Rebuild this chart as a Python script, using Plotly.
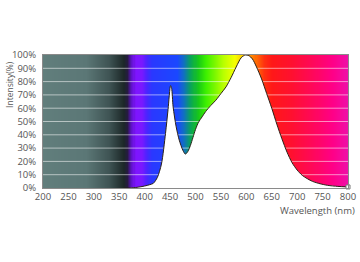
import numpy as np
import plotly.graph_objects as go

# Spectral power distribution (relative intensity, %)
wavelength = [360, 370, 385, 400, 410, 417, 425, 433, 441, 446, 451, 453, 456, 462, 468, 475, 480,
              485, 490, 495, 500, 506, 513, 520, 530, 540, 550, 560, 570, 580, 590, 598,
              605, 612, 620, 630, 640, 650, 660, 670, 680, 690, 700, 710, 720, 730, 745,
              760, 780, 800]
intensity = [0, 0, 0.5, 1.5, 2.5, 3.5, 8, 18, 41, 59, 77, 75, 61, 46, 36, 28.5, 25.5,
             27.5, 32, 38, 44, 49.5, 53.5, 57.5, 62, 66, 71, 76, 83, 91, 98, 100,
             99.5, 97, 91, 82, 71, 60, 48, 37, 27, 19, 13.5, 9.5, 7, 5, 3.2,
             2, 1.2, 0.8]

# Colour stops of the background spectrum band (wavelength nm, colour)
band_wl = [200, 285, 330, 360, 367, 374, 382, 394, 404, 414, 465, 478, 490, 505, 520, 555, 578, 600,
           615, 635, 650, 690, 730, 770, 800]
band_col = ["#617e7c", "#5b7776", "#3f5454", "#1c2828", "#261c40", "#5a12c0", "#7e14ff", "#7a18ff",
            "#4a24ff", "#2a38ff", "#1a48ff", "#1070c0", "#08a060", "#18c818", "#3cf000", "#b8ff00",
            "#f6ff00", "#ffb000", "#ff7a00", "#ff3010", "#ff1818", "#ff1030", "#ff0858", "#ff0088",
            "#ee10a8"]

x_ticks = list(range(200, 801, 50))
y_ticks = list(range(0, 101, 10))
y_labels = [f"{v}%" for v in y_ticks]

wmin, wmax = 200, 800
colorscale = [[(w - wmin) / (wmax - wmin), c] for w, c in zip(band_wl, band_col)]

edges = np.arange(wmin, wmax + 1, 2)
centers = (edges[:-1] + edges[1:]) / 2

fig = go.Figure()
fig.add_trace(go.Heatmap(
    x=edges, y=[0, 100], z=[centers, centers], zmin=wmin, zmax=wmax,
    colorscale=colorscale, showscale=False, hoverinfo="skip", zsmooth=False,
))

# gridlines over the coloured band
gx, gy = [], []
for v in y_ticks[1:-1]:
    gx += [wmin, wmax, None]
    gy += [v, v, None]
fig.add_trace(go.Scatter(x=gx, y=gy, mode="lines",
                         line=dict(color="rgba(255,255,255,0.55)", width=1),
                         hoverinfo="skip", showlegend=False))

fig.add_trace(go.Scatter(
    x=wavelength, y=intensity, mode="lines", line=dict(color="#2b2118", width=1, shape="spline", smoothing=0.8),
    fill="tozeroy", fillcolor="white", showlegend=False, hoverinfo="skip",
))
fig.add_trace(go.Scatter(x=[wavelength[-1]], y=[intensity[-1]], mode="markers",
                         marker=dict(symbol="square", size=4, color="white", line=dict(color="#777", width=1)),
                         showlegend=False, hoverinfo="skip", cliponaxis=False))

fig.update_layout(
    width=360, height=262,
    margin=dict(l=43, r=12, t=55, b=74, autoexpand=False),
    paper_bgcolor="white", plot_bgcolor="white",
    font=dict(family="Open Sans", size=9, color="#555555"),
    showlegend=False,
    xaxis=dict(range=[wmin, wmax], tickvals=x_ticks, showgrid=False, zeroline=False,
               showline=True, linecolor="#8a8a8a", linewidth=1, mirror=True, ticks="",
               tickfont=dict(size=9.5, color="#555555"), fixedrange=True, automargin=False),
    yaxis=dict(range=[0, 100], tickvals=y_ticks, ticktext=y_labels, showgrid=False, zeroline=False,
               showline=True, linecolor="#8a8a8a", linewidth=1, mirror=True, ticks="",
               tickfont=dict(size=9.5, color="#555555"), ticklabelstandoff=4, fixedrange=True,
               automargin=False),
    annotations=[
        dict(text="Wavelength (nm)", xref="paper", yref="paper", x=1.03, y=-0.105,
             xanchor="right", yanchor="top", showarrow=False, font=dict(size=9.5, color="#555555")),
        dict(text="Intensity(%)", xref="paper", yref="paper", x=-0.11, y=0.97,
             xanchor="center", yanchor="top", textangle=-90, showarrow=False,
             font=dict(size=8.5, color="#555555")),
    ],
)

fig.write_html("out.html")
